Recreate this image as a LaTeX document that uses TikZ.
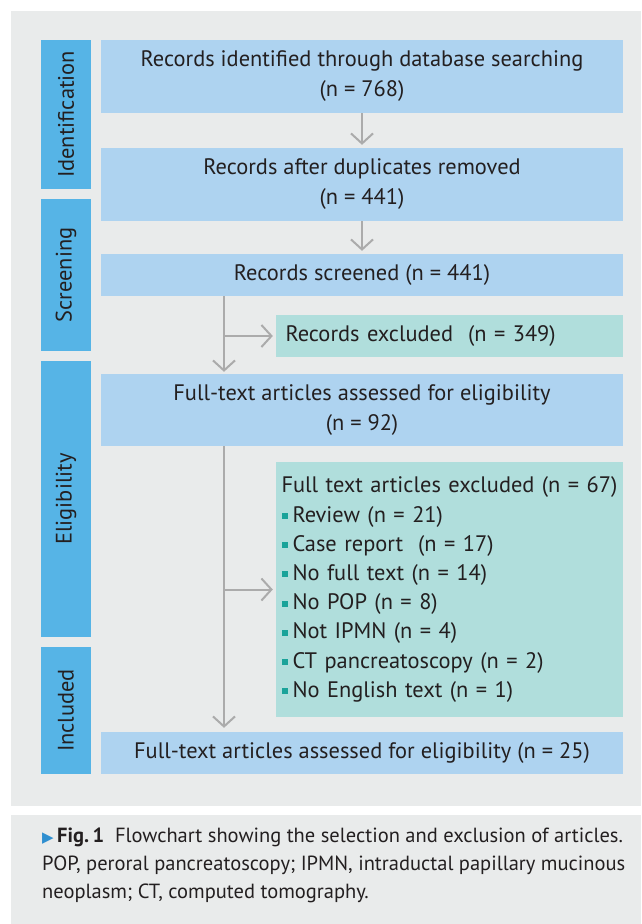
\documentclass[tikz,border=0pt]{standalone}
\usepackage{fontspec}
\setmainfont{PT Sans}
\newfontfamily\symfont{DejaVu Sans}
\usetikzlibrary{arrows.meta, positioning}
\definecolor{panelgray}{HTML}{E9EBEB}
\definecolor{phaseblue}{HTML}{56B4E6}
\definecolor{boxblue}{HTML}{AED3F0}
\definecolor{boxteal}{HTML}{B0DEDC}
\definecolor{bulletteal}{HTML}{1AA39A}
\definecolor{flowgray}{HTML}{ABABAB}
\definecolor{inkdark}{HTML}{231F20}
\definecolor{figblue}{HTML}{2F8FD0}
\newcommand{\bul}{\textcolor{bulletteal}{\raisebox{3pt}{\rule{6pt}{6pt}}}\hspace{5pt}}
\tikzset{
  phase/.style={fill=phaseblue, minimum height=50pt, inner sep=0pt, rotate=90, text=inkdark},
  mainbox/.style={fill=boxblue, minimum width=522pt, inner sep=0pt, align=center, text=inkdark},
  exclbox/.style={fill=boxteal, minimum width=347pt, inner sep=0pt, text=inkdark},
  flow/.style={draw=flowgray, line width=2pt, -{Straight Barb[length=10pt, width=22pt, line width=2pt]}}
}
\begin{document}
\begin{tikzpicture}[x=1pt, y=-1pt, font=\fontsize{22.4}{30}\selectfont]
  \useasboundingbox (0,0) rectangle (641,924);
  \fill[panelgray] (11,11) rectangle (641,806);
  \fill[panelgray] (11,815) rectangle (641,924);
  \node (idphase) [phase, minimum width=149pt] at (66,114.5) {Identification};
  \node (scphase) [phase, minimum width=152pt] at (66,275) {Screening};
  \node (elphase) [phase, minimum width=276pt] at (66,499) {Eligibility};
  \node (inphase) [phase, minimum width=127pt] at (66,710.5) {Included};
  \node (identified) [mainbox, minimum height=73pt] at (362,76.5) {Records identified through database searching\\(n = 768)};
  \node (dedup) [mainbox, minimum height=73pt] at (362,184.5) {Records after duplicates removed\\(n = 441)};
  \node (screened) [mainbox, minimum height=42pt] at (362,275) {Records screened (n = 441)};
  \node (fulltext) [mainbox, minimum height=72pt] at (362,410) {Full-text articles assessed for eligibility\\(n = 92)};
  \node (included) [mainbox, minimum height=42pt] at (362,753) {Full-text articles assessed for eligibility (n = 25)};
  \node (recexcl) [exclbox, minimum height=42pt, text width=336pt, inner xsep=5.5pt] at (449.5,336) {\hspace{4pt}Records excluded\ \ (n = 349)};
  \node (ftexcl) [exclbox, minimum height=255pt, text width=336pt, inner xsep=5.5pt, align=left, font=\fontsize{22.4}{29.2}\selectfont] at (449.5,589.5) {\mbox{Full text articles excluded (n = 67)}\\
    \bul Review (n = 21)\\
    \bul Case report\ \ (n = 17)\\
    \bul No full text (n = 14)\\
    \bul No POP (n = 8)\\
    \bul Not IPMN (n = 4)\\
    \bul CT pancreatoscopy (n = 2)\\
    \bul No English text (n = 1)};
  \coordinate (trunk) at (224,0);
  \draw[flow, shorten >=3pt] (identified) -- (dedup);
  \draw[flow, shorten >=3pt] (dedup) -- (screened);
  \draw[flow, shorten >=2pt] (screened.south -| trunk) -- (fulltext.north -| trunk);
  \draw[flow, shorten >=3pt] (trunk |- recexcl.west) -- (recexcl.west);
  \draw[flow, shorten >=4pt] (fulltext.south -| trunk) -- (included.north -| trunk);
  \draw[flow, shorten >=3pt] (trunk |- ftexcl.west) -- (ftexcl.west);
  \node (caption) [anchor=base west, align=left, inner sep=0pt, text=inkdark, font=\fontsize{20.5}{28}\selectfont] at (42,898) {{\symfont\fontsize{15}{15}\selectfont\textcolor{figblue}{▶}}\,\textbf{Fig.\,1}\ \ Flowchart showing the selection and exclusion of articles.\\
    POP, peroral pancreatoscopy; IPMN, intraductal papillary mucinous\\
    neoplasm; CT, computed tomography.};
\end{tikzpicture}
\end{document}
